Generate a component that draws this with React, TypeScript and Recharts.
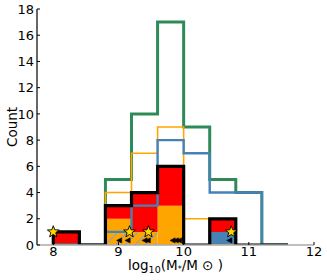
import React from 'react';
import { ComposedChart, Area, Line, Scatter, XAxis, YAxis } from 'recharts';

// Bin edges of log10(M*/Msun) histogram
const binEdges = [8.0, 8.4, 8.8, 9.2, 9.6, 10.0, 10.4, 10.8, 11.2, 11.6];

// Outline (step) histograms, counts per bin
const greenCounts = [0, 0, 5, 10, 17, 9, 5, 4, 0];
const orangeCounts = [0, 0, 4, 7, 9, 2, 0, 0, 0];
const blueCounts = [0, 0, 1, 3, 8, 7, 4, 4, 0];
const blackCounts = [1, 0, 3, 4, 6, 0, 2, 0, 0];

// Filled stacked histogram layers (bottom to top)
const hatchFill = [0, 0, 1, 1, 0, 0, 0, 0, 0];
const blueFill = [0, 0, 0, 0, 0, 0, 1, 0, 0];
const orangeFill = [0, 0, 1, 0, 3, 0, 0, 0, 0];
const redFill = [1, 0, 1, 3, 3, 0, 1, 0, 0];

// Markers
const starX = [8.0, 9.17, 9.46, 10.73];
const starY = [1, 1, 1, 1];
const arrowX = [9.01, 9.14, 9.4, 9.45, 9.83, 9.88, 9.93, 10.7];
const arrowY = [0.35, 0.35, 0.35, 0.35, 0.35, 0.35, 0.35, 0.35];

const xTicks = [8, 9, 10, 11, 12];
const xMinorTicks = [8, 8.5, 9, 9.5, 10, 10.5, 11, 11.5, 12];
const yTicks = [0, 2, 4, 6, 8, 10, 12, 14, 16, 18];

const GREEN = '#2e8b57';
const ORANGE = '#ffa500';
const BLUE = '#4682b4';
const RED = '#ff0000';
const FONT = 'DejaVu Sans';

function stepPoints(counts: number[]) {
  const pts = [{ x: binEdges[0], y: 0 }];
  counts.forEach((c, i) => pts.push({ x: binEdges[i], y: c }));
  pts.push({ x: binEdges[counts.length], y: 0 });
  return pts;
}

const fillTable = binEdges.map((e, i) => {
  const h = hatchFill[i] ?? 0;
  const b = blueFill[i] ?? 0;
  const o = orangeFill[i] ?? 0;
  const r = redFill[i] ?? 0;
  return {
    x: e,
    hatch: [0, h],
    blue: [h, h + b],
    orange: [h + b, h + b + o],
    red: [h + b + o, h + b + o + r],
  };
});

const stars = starX.map((x, i) => ({ x, y: starY[i] }));
const arrows = arrowX.map((x, i) => ({ x, y: arrowY[i] }));

const Star = (props: any) => {
  const { cx, cy } = props;
  const R = 6.2;
  const r = 2.6;
  const pts: string[] = [];
  for (let k = 0; k < 10; k++) {
    const rad = k % 2 === 0 ? R : r;
    const a = -Math.PI / 2 + (k * Math.PI) / 5;
    pts.push(`${cx + rad * Math.cos(a)},${cy + rad * Math.sin(a)}`);
  }
  return <polygon points={pts.join(' ')} fill="#ffd700" stroke="#000" strokeWidth={0.9} />;
};

const LeftArrow = (props: any) => {
  const { cx, cy } = props;
  const s = 2.6;
  return (
    <polygon
      points={`${cx - s},${cy} ${cx + s},${cy - s} ${cx + s},${cy + s}`}
      fill="#000"
      stroke="#000"
      strokeWidth={0.5}
    />
  );
};

export default function App() {
  return (
    <div style={{ position: 'absolute', left: 0, top: 0 }}>
      <ComposedChart
        width={327}
        height={280}
        data={fillTable}
        margin={{ top: 9, right: 13, bottom: 0, left: 0 }}
      >
        <defs>
          <pattern id="hatch" patternUnits="userSpaceOnUse" width={10} height={10}>
            <rect x={0} y={0} width={10} height={10} fill={ORANGE} />
            <path d="M-1,1 l2,-2 M0,10 l10,-10 M9,11 l2,-2" stroke="#7fa7d0" strokeWidth={1.2} />
          </pattern>
        </defs>
        <XAxis
          dataKey="x"
          type="number"
          domain={[7.75, 12]}
          allowDataOverflow
          ticks={xTicks}
          tickSize={-3}
          tickMargin={5}
          tick={{ fill: '#000', fontSize: 13, fontFamily: FONT }}
          tickLine={{ stroke: '#000' }}
          axisLine={{ stroke: '#aaaaaa', strokeWidth: 1.5 }}
          height={35}
          label={(p: any) => {
            const vb = p.viewBox || {};
            const cx = (vb.x ?? 37) + (vb.width ?? 277) / 2;
            const y = (vb.y ?? 245) + 25;
            return (
              <text x={cx} y={y} textAnchor="middle" fontFamily={FONT} fontSize={13.5} fill="#000">
                log
                <tspan fontSize={9.5} dy={3}>10</tspan>
                <tspan dy={-3}>(M</tspan>
                <tspan fontSize={8} dy={2}>*</tspan>
                <tspan dy={-2}>/M ⊙ )</tspan>
              </text>
            );
          }}
        />
        <XAxis
          xAxisId="top"
          orientation="top"
          type="number"
          domain={[7.75, 12]}
          allowDataOverflow
          ticks={xMinorTicks}
          tickSize={-3}
          tickFormatter={() => ''}
          tickLine={{ stroke: '#000' }}
          axisLine={{ stroke: '#000', strokeWidth: 1.2 }}
          height={0}
        />
        <YAxis
          dataKey="y"
          type="number"
          domain={[0, 18]}
          allowDataOverflow
          ticks={yTicks}
          tickSize={-3}
          tickMargin={6}
          tick={{ fill: '#000', fontSize: 13, fontFamily: FONT }}
          tickLine={{ stroke: '#000' }}
          axisLine={{ stroke: '#000', strokeWidth: 1.2 }}
          width={37}
          label={(p: any) => {
            const vb = p.viewBox || {};
            const x = 12;
            const y = (vb.y ?? 9) + (vb.height ?? 236) / 2;
            return (
              <text
                x={x}
                y={y}
                textAnchor="middle"
                dominantBaseline="central"
                transform={`rotate(-90, ${x}, ${y})`}
                fontFamily={FONT}
                fontSize={13.5}
                fill="#000"
              >
                Count
              </text>
            );
          }}
        />
        <YAxis
          yAxisId="right"
          orientation="right"
          type="number"
          domain={[0, 18]}
          allowDataOverflow
          ticks={yTicks}
          tickSize={-3}
          tickFormatter={() => ''}
          tickLine={{ stroke: '#000' }}
          axisLine={{ stroke: '#aaaaaa', strokeWidth: 1.5 }}
          width={0}
        />

        <Area type="stepAfter" dataKey={(d: any) => d.hatch} fill="url(#hatch)" fillOpacity={1} stroke="none" isAnimationActive={false} dot={false} activeDot={false} />
        <Area type="stepAfter" dataKey={(d: any) => d.blue} fill={BLUE} fillOpacity={1} stroke="none" isAnimationActive={false} dot={false} activeDot={false} />
        <Area type="stepAfter" dataKey={(d: any) => d.orange} fill={ORANGE} fillOpacity={1} stroke="none" isAnimationActive={false} dot={false} activeDot={false} />
        <Area type="stepAfter" dataKey={(d: any) => d.red} fill={RED} fillOpacity={1} stroke="none" isAnimationActive={false} dot={false} activeDot={false} />

        <Line data={stepPoints(greenCounts)} dataKey="y" type="stepAfter" stroke={GREEN} strokeWidth={3} dot={false} activeDot={false} isAnimationActive={false} />
        <Line data={stepPoints(orangeCounts)} dataKey="y" type="stepAfter" stroke={ORANGE} strokeWidth={1.6} dot={false} activeDot={false} isAnimationActive={false} />
        <Line data={stepPoints(blueCounts)} dataKey="y" type="stepAfter" stroke={BLUE} strokeWidth={2.4} dot={false} activeDot={false} isAnimationActive={false} />
        <Line data={stepPoints(blackCounts)} dataKey="y" type="stepAfter" stroke="#000" strokeWidth={3.2} dot={false} activeDot={false} isAnimationActive={false} />

        <Scatter data={arrows} dataKey="y" shape={LeftArrow} isAnimationActive={false} />
        <Scatter data={stars} dataKey="y" shape={Star} isAnimationActive={false} />
      </ComposedChart>
    </div>
  );
}
